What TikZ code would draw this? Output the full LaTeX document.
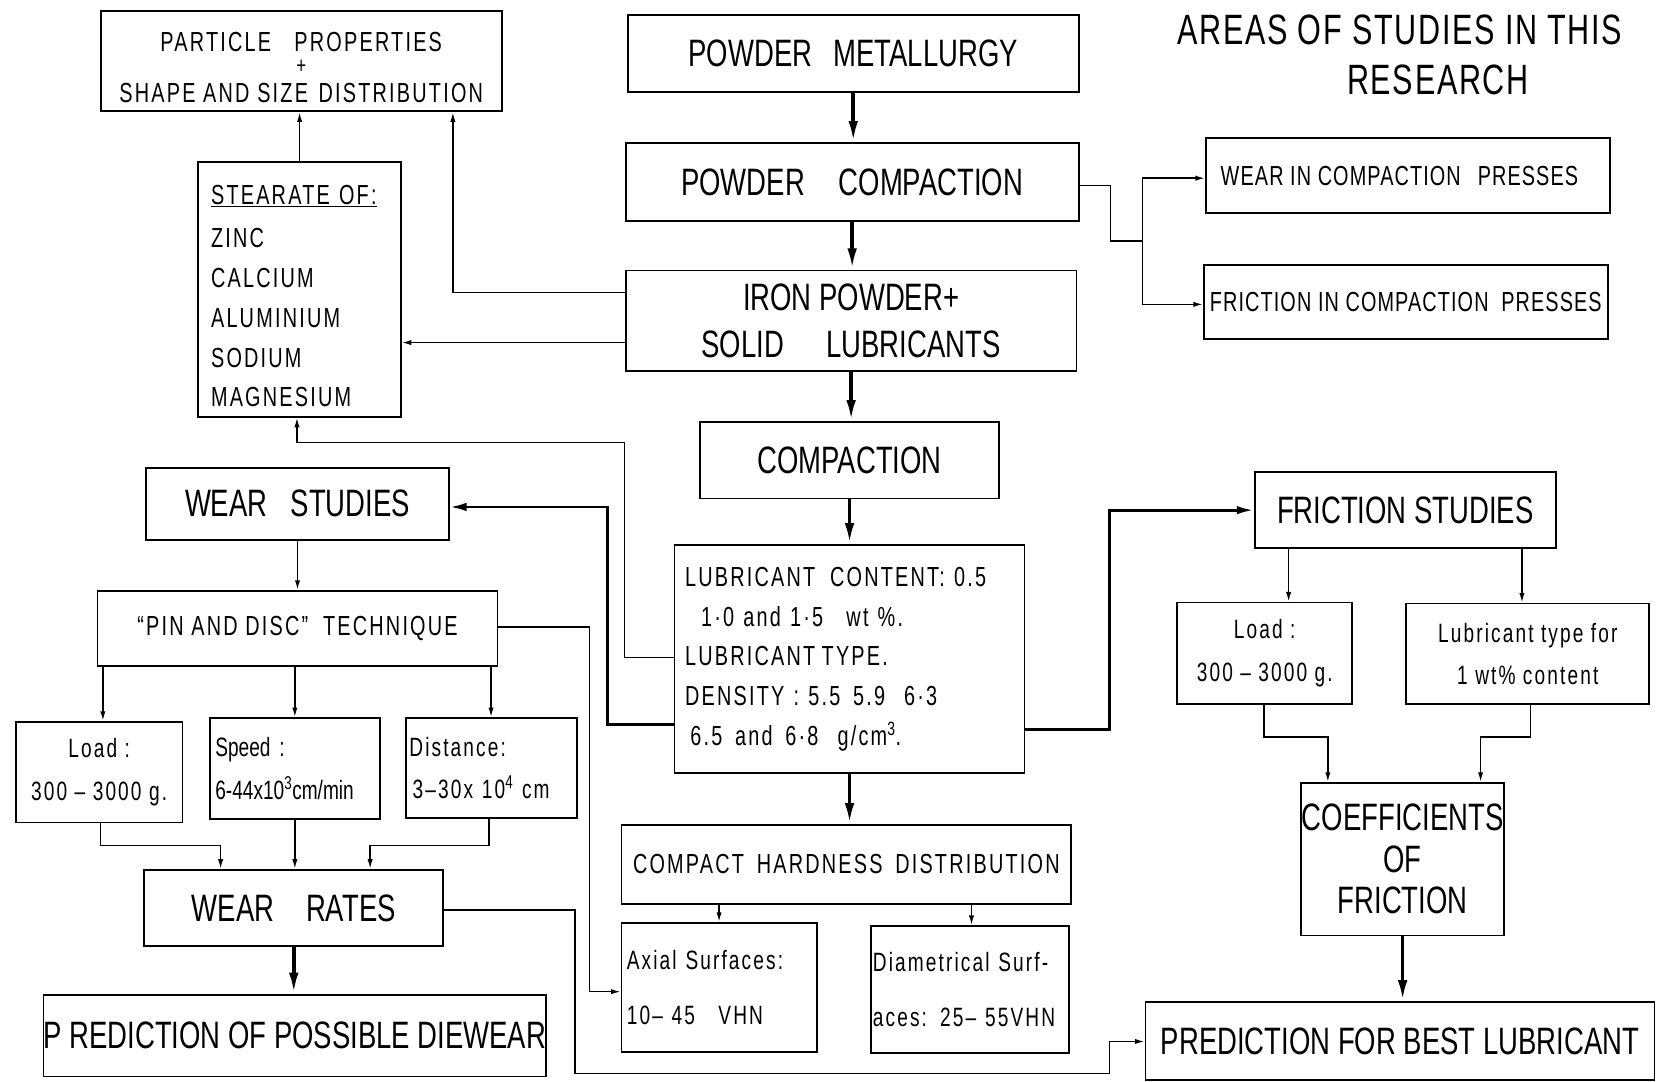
\documentclass[tikz,border=0pt]{standalone}
\usepackage{fontspec}
\setmainfont{Liberation Sans}
\newfontfamily\lett[FakeStretch=0.72]{Liberation Sans}
\newfontfamily\lettsp[FakeStretch=0.72,LetterSpace=8]{Liberation Sans}
\newfontfamily\lettmid[FakeStretch=0.72,LetterSpace=4]{Liberation Sans}
\usetikzlibrary{arrows.meta}
\begin{document}
\begin{tikzpicture}[x=1pt,y=-1pt,
  box/.style={draw, line width=1.7pt, inner sep=0pt, align=center},
  lbox/.style={draw, line width=1.7pt, inner ysep=0pt, align=left},
  con/.style={line width=1.4pt},
  arr/.style={con, -{Latex[length=9pt,width=5pt]}},
  arrm/.style={line width=2.6pt, -{Latex[length=16pt,width=8pt]}},
  arrt/.style={line width=3.4pt, -{Latex[length=20pt,width=9pt]}},
  big/.style={font=\lett\fontsize{36}{44}\selectfont},
  ttl/.style={font=\lettmid\fontsize{40}{47}\selectfont},
  med/.style={font=\lettsp\fontsize{26}{37.5}\selectfont},
  medn/.style={font=\lettmid\fontsize{26}{37.5}\selectfont},
  sml/.style={font=\lettsp\fontsize{25}{40}\selectfont}
]
\useasboundingbox (0,0) rectangle (1568,1020);
\fill[white] (0,0) rectangle (1568,1020);

% title
\node[ttl, align=left, anchor=north west, inner sep=0pt] (title) at (1110,14)
  {AREAS OF STUDIES IN THIS\\\hspace*{160pt}RESEARCH};

% main column
\node[box, big, minimum width=425pt, minimum height=73pt] (met) at (804.5,50.5) {POWDER\hspace{20pt}METALLURGY};
\node[box, big, minimum width=427pt, minimum height=73pt] (pc) at (803.5,171.5) {POWDER\hspace{32pt}COMPACTION};
\node[box, big, minimum width=425pt, minimum height=95pt] (iron) at (802.5,302.5) {IRON POWDER+\\SOLID\hspace{40pt}LUBRICANTS};
\node[box, big, minimum width=282pt, minimum height=72pt] (comp) at (801,434) {COMPACTION};
\node[lbox, med, inner xsep=10pt, text width=310pt, minimum height=215pt] (lub) at (801,621.5)
  {LUBRICANT\hspace{14pt}CONTENT: 0.5\\
   \hspace*{15pt}1·0 and 1·5\hspace{22pt}wt \%.\\
   LUBRICANT\hspace{6pt}TYPE.\\
   DENSITY : 5.5\hspace{12pt}5.9\hspace{18pt}6·3\\
   \hspace*{5pt}6.5\hspace{12pt}and\hspace{12pt}6·8\hspace{18pt}g/cm\textsuperscript{3}.};
\node[box, med, minimum width=424pt, minimum height=74pt] (chd) at (798,815) {COMPACT\hspace{12pt}HARDNESS\hspace{12pt}DISTRIBUTION};
\node[lbox, sml, inner xsep=5pt, text width=174pt, minimum height=122pt] (axial) at (678,931) {Axial Surfaces:\\[12pt]10– 45\hspace{22pt}VHN};
\node[lbox, sml, inner xsep=2pt, text width=183pt, minimum height=120pt] (diam) at (914.5,933) {Diametrical Surf-\\[12pt]aces: 25– 55VHN};

% top left
\node[box, med, minimum width=378pt, minimum height=95pt] (part) at (284,57.5)
  {\rule{0pt}{30pt}PARTICLE\hspace{22pt}PROPERTIES\\[-17pt]
   {\fontsize{22}{22}\selectfont +}\\[-10pt]
   SHAPE AND SIZE\hspace{10pt}DISTRIBUTION};
\node[lbox, med, inner xsep=12pt, text width=167pt, minimum height=240pt] (stear) at (282.5,273)
  {\rule{0pt}{31pt}\underline{STEARATE OF:}\\[3pt]ZINC\\CALCIUM\\ALUMINIUM\\SODIUM\\MAGNESIUM};

% top right
\node[box, medn, minimum width=381pt, minimum height=71pt] (wcp) at (1327.5,165.5) {WEAR IN COMPACTION\hspace{16pt}PRESSES\hspace{16pt}};
\node[box, medn, minimum width=381pt, minimum height=70pt] (fcp) at (1325.5,285) {FRICTION IN COMPACTION\hspace{12pt}PRESSES};

% wear branch
\node[box, big, minimum width=285pt, minimum height=68pt] (ws) at (280.5,475) {WEAR\hspace{22pt}STUDIES};
\node[box, med, minimum width=377pt, minimum height=71pt] (pin) at (280.5,592.5) {“PIN AND DISC”\hspace{14pt}TECHNIQUE};
\node[box, sml, minimum width=157pt, minimum height=95pt] (load1) at (93.5,728) {Load :\\300 – 3000 g.};
\node[lbox, font=\lett\fontsize{25}{40}\selectfont, inner xsep=5pt, text width=150pt, minimum height=95pt] (speed) at (278,724.5) {Speed :\\6-44x10\textsuperscript{3}cm/min};
\node[lbox, sml, inner xsep=3pt, text width=155pt, minimum height=94pt] (dist) at (463.5,724) {Distance:\\\hspace*{3pt}3–30x 10\textsuperscript{4} cm};
\node[box, big, minimum width=282pt, minimum height=72pt] (wr) at (277,856) {WEAR\hspace{30pt}RATES};
\node[box, big, minimum width=472pt, minimum height=77pt] (pdw) at (278,976.5) {P REDICTION OF POSSIBLE DIEWEAR};

% friction branch
\node[box, big, minimum width=284pt, minimum height=72pt] (fs) at (1325,481) {FRICTION STUDIES};
\node[box, sml, minimum width=165pt, minimum height=96pt] (load2) at (1192.5,616) {Load :\\300 – 3000 g.};
\node[box, sml, minimum width=229pt, minimum height=95pt] (ltype) at (1440.5,616.5) {Lubricant type for\\1 wt\% content};
\node[box, font=\lett\fontsize{36}{39}\selectfont, minimum width=191pt, minimum height=144pt] (coef) at (1322.5,810) {COEFFICIENTS\\OF\\FRICTION};
\node[box, big, minimum width=480pt, minimum height=73pt] (pbl) at (1320,981.5) {PREDICTION FOR BEST LUBRICANT};

% thick main arrows
\draw[arrt] (met.south) -- (met.south |- pc.north);
\draw[arrt] (pc.south) -- (pc.south |- iron.north);
\draw[arrt] (iron.south) -- (iron.south |- comp.north);
\draw[arrt] (comp.south) -- (comp.south |- lub.north);
\draw[arrt] (lub.south) -- (lub.south |- chd.north);
\draw[arrt] (wr.south) -- (wr.south |- pdw.north);
\draw[arrt] (coef.south) -- (coef.south |- pbl.north);

% medium arrows
\draw[arrm] (lub.west |- 0,683) -- (573,683) -- (573,478) -- (ws.east |- 0,478);
\draw[arrm] (lub.east |- 0,688) -- (1046,688) -- (1046,481) -- (fs.west);

% powder compaction to presses
\coordinate (j1) at (1077,227);
\draw[con] (pc.east |- 0,175) -- (1047,175) -- (1047,227) -- (j1);
\draw[arr] (j1) |- (wcp.west |- 0,168);
\draw[arr] (j1) |- (fcp.west |- 0,287);

% left connections
\draw[arr] (stear.north) -- (stear.north |- part.south);
\draw[arr] (iron.west |- 0,276) -| (part.south -| 427,0);
\draw[arr] (iron.west |- 0,323) -- (stear.east |- 0,323);
\draw[arr] (lub.west |- 0,620) -- (589,620) -- (589,417) -- (280,417) -- (stear.south -| 280,0);

% wear branch
\draw[arr] (ws.south) -- (ws.south |- pin.north);
\draw[arr] (pin.south -| 97,0) -- (load1.north -| 97,0);
\draw[arr] (pin.south -| 278,0) -- (speed.north -| 278,0);
\draw[arr] (pin.south -| 463,0) -- (dist.north -| 463,0);
\draw[arr] (pin.east |- 0,591) -- (556,591) -- (556,935) -- (axial.west |- 0,935);
\draw[arr] (load1.south -| 95,0) -- (95,797) -- (208,797) -- (wr.north -| 208,0);
\draw[arr] (speed.south) -- (speed.south |- wr.north);
\draw[arr] (dist.south -| 461,0) -- (461,797) -- (349,797) -- (wr.north -| 349,0);
\draw[arr] (wr.east |- 0,858) -- (542,858) -- (542,1012) -- (1046,1012) -- (1046,982) -- (pbl.west |- 0,982);

% hardness
\draw[arr] (chd.south -| 678,0) -- (axial.north -| 678,0);
\draw[arr] (chd.south -| 916,0) -- (diam.north -| 916,0);

% friction branch
\draw[arr] (fs.south -| 1215,0) -- (load2.north -| 1215,0);
\draw[arr] (fs.south -| 1435,0) -- (ltype.north -| 1435,0);
\draw[arr] (load2.south -| 1192,0) -- (1192,695) -- (1252,695) -- (coef.north -| 1252,0);
\draw[arr] (ltype.south -| 1443,0) -- (1443,695) -- (1396,695) -- (coef.north -| 1396,0);
\end{tikzpicture}
\end{document}
